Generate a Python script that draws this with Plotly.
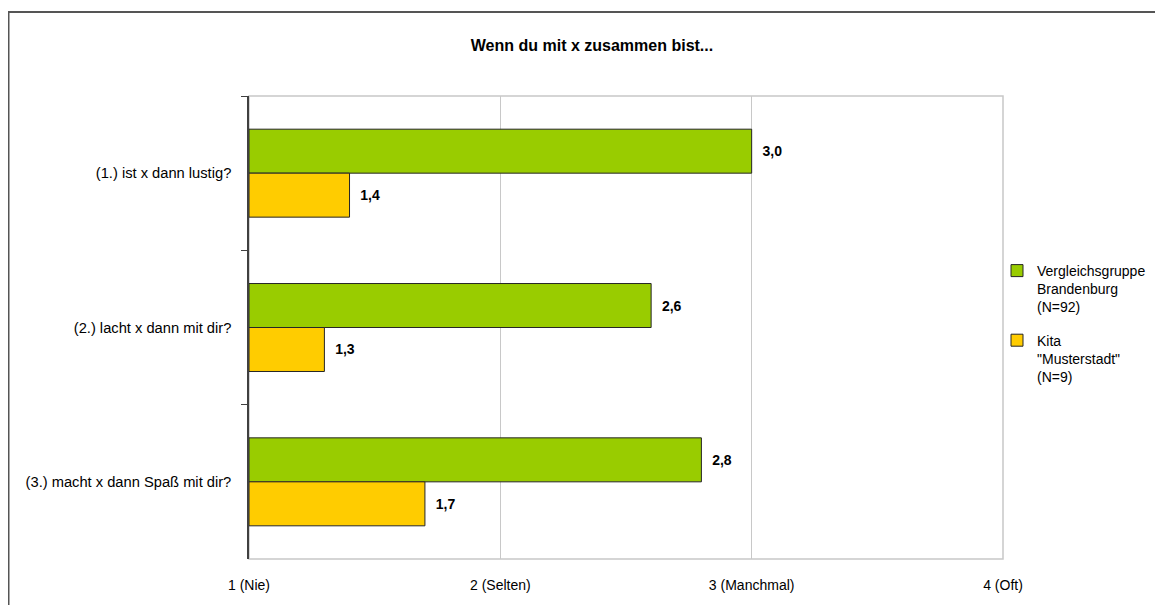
import plotly.graph_objects as go

categories = ["(1.) ist x dann lustig?", "(2.) lacht x dann mit dir?", "(3.) macht x dann Spaß mit dir?"]
vergleich = [3.0, 2.6, 2.8]
kita = [1.4, 1.3, 1.7]
series_names = ["Vergleichsgruppe<br>Brandenburg<br>(N=92)", "Kita<br>\"Musterstadt\"<br>(N=9)"]
tick_vals = [1, 2, 3, 4]
tick_text = ["1 (Nie)", "2 (Selten)", "3 (Manchmal)", "4 (Oft)"]

OFF = 8  # page body margin
W, H = 1163 - OFF, 605 - OFF
L, T = 249 - OFF, 96 - OFF
R = W - (1003 - OFF)
B = H - (559 - OFF)
pw, ph = W - L - R, H - T - B

def fmt(v):
    return "\u00a0\u00a0" + f"{v:.1f}".replace(".", ",")

fig = go.Figure()
for i, (name, vals, col) in enumerate([(series_names[0], vergleich, "#99CC00"),
                                       (series_names[1], kita, "#FFCC00")]):
    fig.add_trace(go.Bar(
        y=categories, x=[v - 1 for v in vals], base=1, orientation="h", name=name,
        legendgroup=f"g{i}",
        marker=dict(color=col, line=dict(color="#262626", width=1)),
        text=[fmt(v) for v in vals], textposition="outside",
        textfont=dict(family="Liberation Sans, Arial", size=14, color="#000000", weight="bold"),
        cliponaxis=False,
    ))

fig.update_layout(
    width=W, height=H,
    margin=dict(l=L, r=R, t=T, b=B, autoexpand=False),
    paper_bgcolor="white", plot_bgcolor="white",
    barmode="group", bargap=0.43, bargroupgap=0,
    font=dict(family="Liberation Sans, Arial", size=14, color="#000000"),
    title=dict(text="<b>Wenn du mit x zusammen bist...</b>", x=(592 - OFF) / W, xanchor="center",
               y=1 - (45 - OFF) / H, yanchor="middle", font=dict(size=16, color="#000000")),
    xaxis=dict(range=[1, 4], tickvals=tick_vals, ticktext=tick_text, showgrid=True,
               gridcolor="#C8C8C8", gridwidth=1, zeroline=False, showline=False,
               ticks="", ticklabelstandoff=16, tickfont=dict(size=14, color="#000000")),
    yaxis=dict(categoryorder="array", categoryarray=categories, autorange="reversed",
               showline=True, linecolor="#404040", linewidth=1.5, ticks="outside",
               ticklen=6, tickcolor="#404040", tickson="boundaries", showgrid=False,
               ticklabelstandoff=13, tickfont=dict(size=14.7, color="#000000")),
    legend=dict(x=(997 - OFF - L) / pw, xanchor="left", y=1 - (255 - OFF - T) / ph, yanchor="top",
                traceorder="grouped", valign="top", font=dict(size=14, color="#000000"),
                tracegroupgap=12, itemwidth=30, bgcolor="rgba(0,0,0,0)"),
    showlegend=True,
)

# plot-area light border
fig.add_shape(type="rect", xref="paper", yref="paper", x0=0, x1=1, y0=0, y1=1,
              line=dict(color="#C8C8C8", width=1.5), layer="below")
# outer chart frame
fig.add_shape(type="rect", xref="paper", yref="paper",
              x0=(0.5 - L) / pw, x1=(W + 10 - L) / pw,
              y0=1 - (H + 10 - T) / ph, y1=1 + (T - (12 - OFF)) / ph,
              line=dict(color="#555555", width=2), fillcolor="rgba(0,0,0,0)")

fig.write_html("out.html")
